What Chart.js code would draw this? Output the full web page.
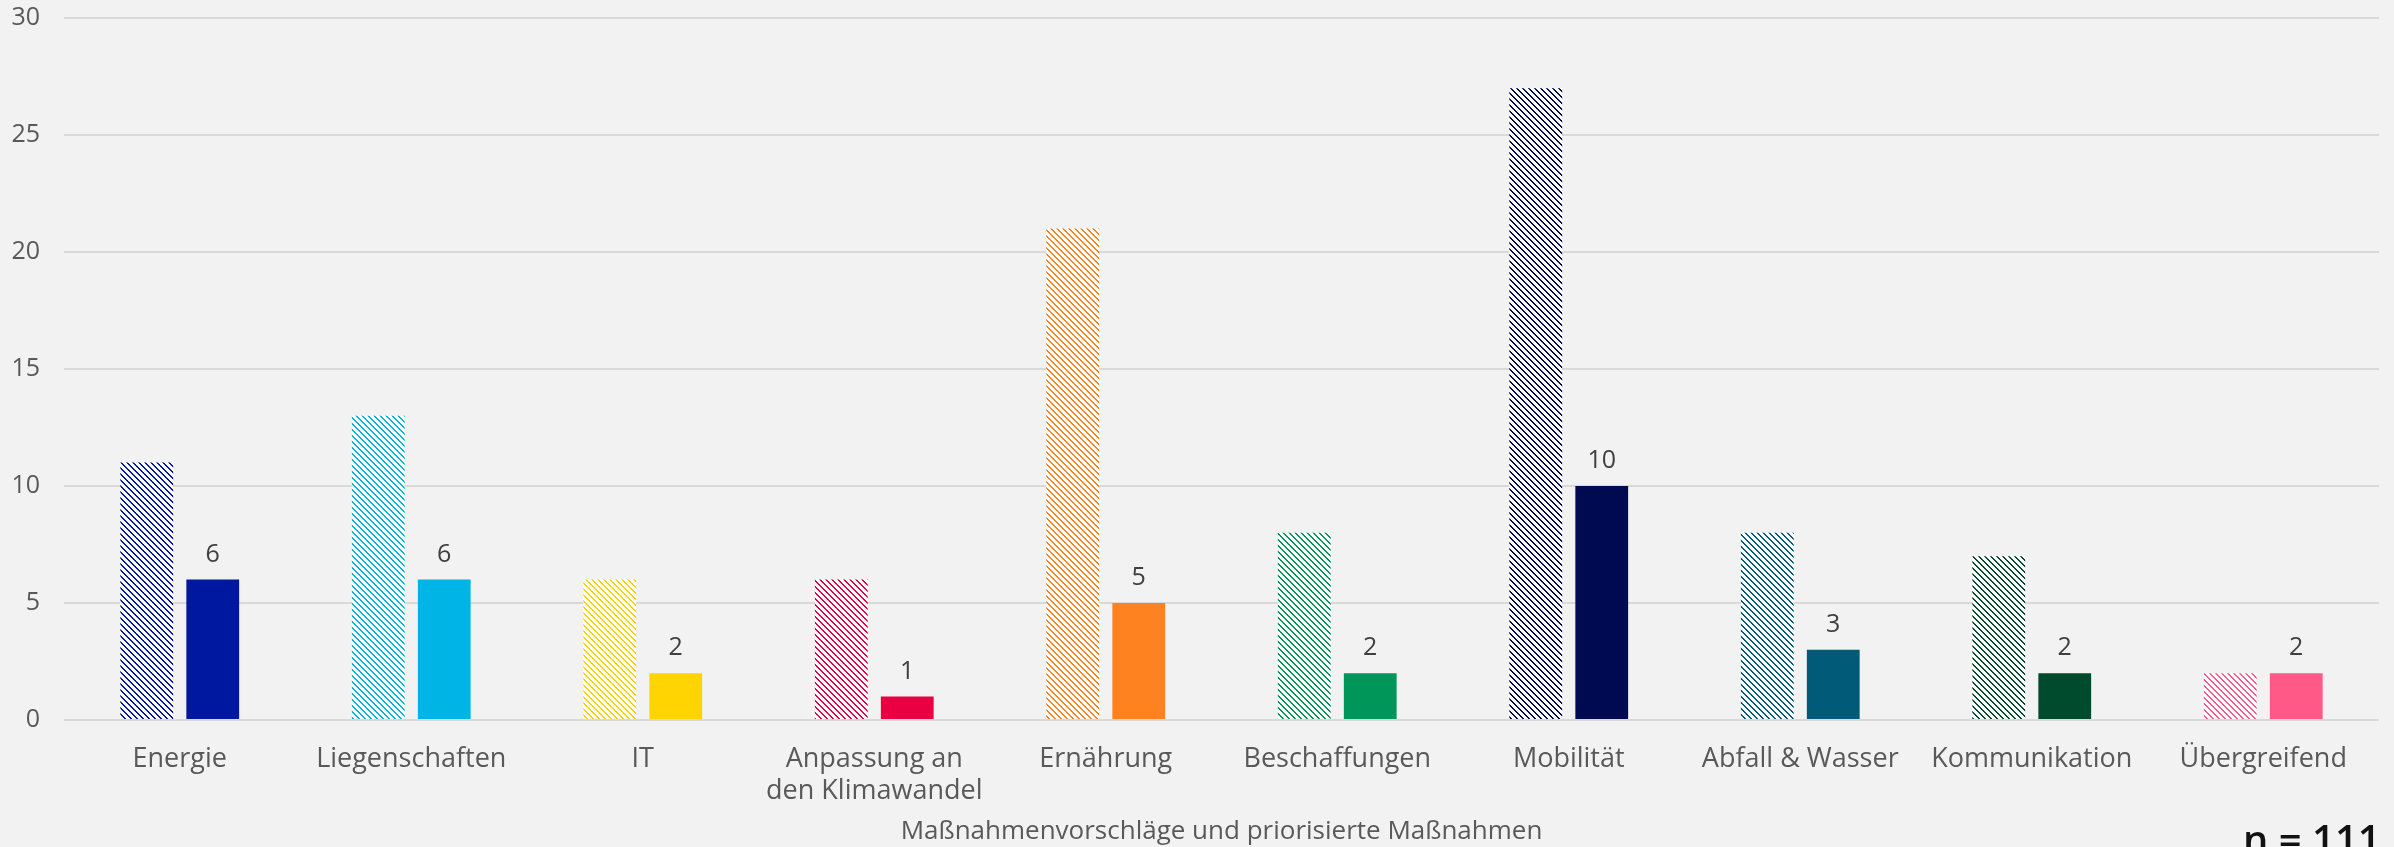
<!DOCTYPE html>
<html>
<head>
<meta charset="utf-8">
<script src="https://cdn.jsdelivr.net/npm/chart.js@4.4.1/dist/chart.umd.min.js"></script>
<style>
  html, body { margin: 0; padding: 0; background: #f2f2f2; }
  #wrap { width: 2394px; height: 847px; }
</style>
</head>
<body>
<div id="wrap"><canvas id="chart" width="2394" height="847"></canvas></div>
<script>
// categories and values
const CATEGORIES = ['Energie', 'Liegenschaften', 'IT', ['Anpassung an', 'den Klimawandel'], 'Ernährung',
    'Beschaffungen', 'Mobilität', 'Abfall & Wasser', 'Kommunikation', 'Übergreifend'];
const PROPOSED = [11, 13, 6, 6, 21, 8, 27, 8, 7, 2];   // Maßnahmenvorschläge (hatched)
const PRIORITIZED = [6, 6, 2, 1, 5, 2, 10, 3, 2, 2];   // priorisierte Maßnahmen (solid)
const COLORS = ['#0018a0', '#00b4e6', '#ffd400', '#ea0042', '#ff8221', '#00965a', '#000a50', '#005a78', '#004b2d', '#ff5a87'];
const Y_TICKS = [0, 5, 10, 15, 20, 25, 30];
const X_TITLE = 'Maßnahmenvorschläge und priorisierte Maßnahmen';
const NOTE = 'n = 111';

const FONT = '"Open Sans", "DejaVu Sans", sans-serif';

// diagonal hatch (top-left to bottom-right) on white
function hatch(color) {
    const c = document.createElement('canvas');
    c.width = 6; c.height = 6;
    const g = c.getContext('2d');
    g.fillStyle = '#ffffff';
    g.fillRect(0, 0, 6, 6);
    g.fillStyle = color;
    for (let y = 0; y < 6; y++) {
        g.fillRect(y % 6, y, 1, 1);
        g.fillRect((y + 1) % 6, y, 1, 1);
    }
    return g.createPattern(c, 'repeat');
}

const valueLabels = {
    id: 'valueLabels',
    afterDatasetsDraw(chart) {
        const ctx = chart.ctx;
        const meta = chart.getDatasetMeta(1);
        ctx.save();
        ctx.font = '25px ' + FONT;
        ctx.fillStyle = '#404040';
        ctx.textAlign = 'center';
        ctx.textBaseline = 'middle';
        meta.data.forEach((bar, i) => {
            ctx.fillText(String(PRIORITIZED[i]), bar.x, bar.y - 25);
        });
        ctx.restore();
    }
};

const note = {
    id: 'note',
    afterDraw(chart) {
        const ctx = chart.ctx;
        ctx.save();
        ctx.font = '600 40px ' + FONT;
        ctx.fillStyle = '#111111';
        ctx.textAlign = 'left';
        ctx.textBaseline = 'alphabetic';
        ctx.fillText(NOTE, 2243, 854);
        ctx.restore();
    }
};

const bgPlugin = {
    id: 'bg',
    beforeDraw(chart) {
        const ctx = chart.ctx;
        ctx.save();
        ctx.fillStyle = '#f2f2f2';
        ctx.fillRect(0, 0, chart.width, chart.height);
        ctx.restore();
    }
};

new Chart(document.getElementById('chart'), {
    type: 'bar',
    data: {
        labels: CATEGORIES,
        datasets: [
            { label: 'Maßnahmenvorschläge', data: PROPOSED, backgroundColor: COLORS.map(hatch) },
            { label: 'priorisierte Maßnahmen', data: PRIORITIZED, backgroundColor: COLORS }
        ]
    },
    options: {
        responsive: false,
        animation: false,
        layout: { padding: { top: 0, right: 15, bottom: 0, left: 0 } },
        datasets: { bar: { categoryPercentage: 0.57, barPercentage: 0.8 } },
        scales: {
            x: {
                afterFit(scale) { scale.height = 127; },
                grid: { display: false, drawTicks: false },
                border: { display: false },
                ticks: { color: '#595959', font: { family: FONT, size: 27 }, padding: 23, maxRotation: 0, autoSkip: false },
                title: { display: true, text: X_TITLE, color: '#595959', font: { family: FONT, size: 26 }, padding: { top: 12, bottom: 0 } }
            },
            y: {
                min: 0, max: 30,
                afterFit(scale) { scale.width = 64; scale.paddingTop = 18; scale.paddingBottom = 0; },
                afterBuildTicks(scale) { scale.ticks = Y_TICKS.map(v => ({ value: v })); },
                grid: { color: '#d9d9d9', lineWidth: 2, drawTicks: false },
                border: { display: false },
                ticks: { color: '#595959', font: { family: FONT, size: 25 }, padding: 24 }
            }
        },
        plugins: { legend: { display: false }, tooltip: { enabled: false } }
    },
    plugins: [bgPlugin, valueLabels, note]
});
</script>
</body>
</html>
